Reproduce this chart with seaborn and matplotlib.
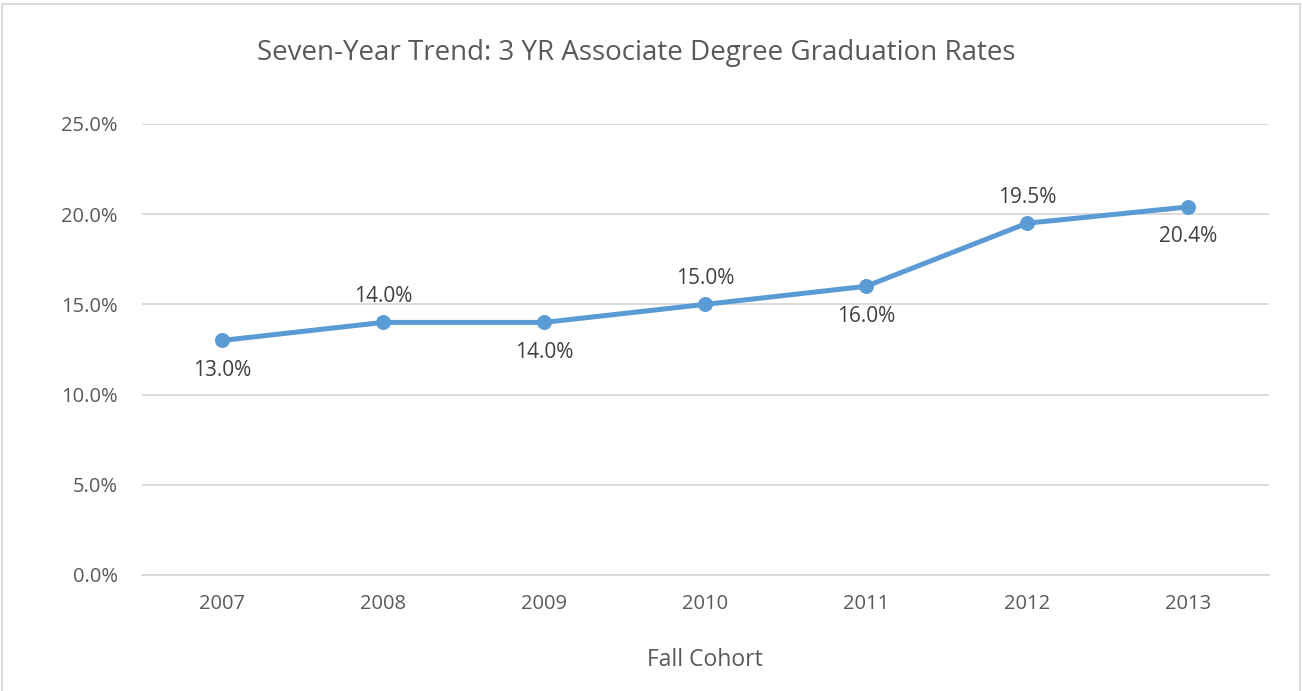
import numpy as np
import matplotlib
matplotlib.use('Agg')
import matplotlib.pyplot as plt
import seaborn as sns
from matplotlib.patches import Rectangle

years = [2007, 2008, 2009, 2010, 2011, 2012, 2013]
rates = [13.0, 14.0, 14.0, 15.0, 16.0, 19.5, 20.4]
label_pos = ['below', 'above', 'below', 'above', 'below', 'above', 'below']
y_ticks = [0, 5, 10, 15, 20, 25]

sns.set_style('white')
plt.rcParams['font.family'] = ['Open Sans', 'DejaVu Sans']

fig = plt.figure(figsize=(13.02, 6.91), dpi=100)
ax = fig.add_axes([0.1087, 0.1679, 0.8656, 0.6527])

sns.lineplot(x=years, y=rates, ax=ax, color='#5B9BD5', linewidth=3.6,
             marker='o', markersize=10, markeredgecolor='#5B9BD5', zorder=3)

for x, y, pos in zip(years, rates, label_pos):
    off = 18.5 if pos == 'above' else -21.5
    ax.annotate(f'{y:.1f}%', (x, y), xytext=(0, off), textcoords='offset points',
                ha='center', va='center', fontsize=15, color='#404040')

ax.set_xlim(years[0] - 0.5, years[-1] + 0.5)
ax.set_ylim(0, 25)
ax.set_xticks(years)
ax.set_xticklabels([str(y) for y in years])
ax.set_yticks(y_ticks)
ax.set_yticklabels([f'{t:.1f}%' for t in y_ticks])
ax.tick_params(axis='both', labelsize=14.5, labelcolor='#595959', length=0)
ax.tick_params(axis='x', pad=14)
ax.tick_params(axis='y', pad=17)
ax.grid(axis='y', color='#D9D9D9', linewidth=1.3)
ax.set_axisbelow(True)
for s in ['top', 'right', 'left']:
    ax.spines[s].set_visible(False)
ax.spines['bottom'].set_color('#D9D9D9')
ax.spines['bottom'].set_linewidth(1.3)

ax.set_xlabel('Fall Cohort', fontsize=16.5, color='#595959', labelpad=24)
ax.set_ylabel('')
fig.text(0.489, 0.923, 'Seven-Year Trend: 3 YR Associate Degree Graduation Rates',
         ha='center', va='center', fontsize=20, color='#595959')

fig.patches.append(Rectangle((0.0015, -0.01), 0.997, 1.004, transform=fig.transFigure,
                             fill=False, edgecolor='#D9D9D9', linewidth=1.3))

fig.savefig('out.png', dpi=100)
